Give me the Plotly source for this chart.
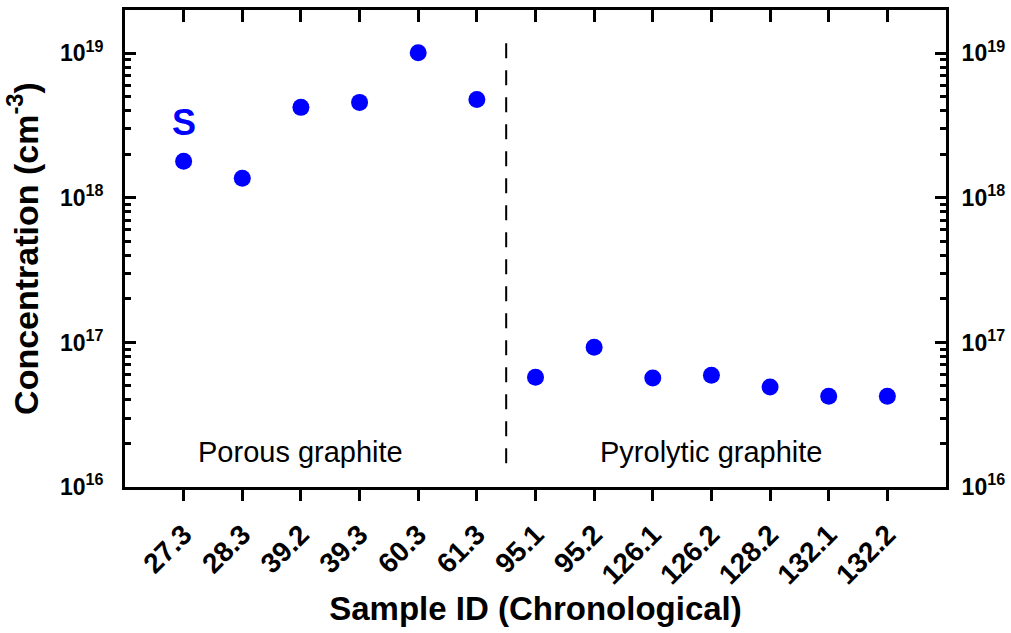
import plotly.graph_objects as go

sample_ids = ["27.3", "28.3", "39.2", "39.3", "60.3", "61.3", "95.1",
              "95.2", "126.1", "126.2", "128.2", "132.1", "132.2"]
concentration = [1.79e18, 1.37e18, 4.23e18, 4.58e18, 1.01e19, 4.8e18, 5.75e16,
                 9.28e16, 5.67e16, 5.94e16, 4.91e16, 4.25e16, 4.25e16]
y_tickvals = [1e16, 1e17, 1e18, 1e19]
y_ticktext = ["10<sup>16</sup>", "10<sup>17</sup>", "10<sup>18</sup>", "10<sup>19</sup>"]

FONT = "Liberation Sans, Arial, sans-serif"
idx = list(range(len(sample_ids)))

fig = go.Figure()
fig.add_trace(go.Scatter(
    x=idx, y=concentration, mode="markers",
    marker=dict(color="#0000ff", size=17, line=dict(width=0)),
    showlegend=False, hoverinfo="x+y"))
fig.add_trace(go.Scatter(
    x=idx, y=concentration, mode="markers", xaxis="x2", yaxis="y2",
    marker=dict(opacity=0), showlegend=False, hoverinfo="skip"))

minor = dict(ticks="inside", ticklen=6, tickwidth=2.5, tickcolor="black", dtick="D1")
common_y = dict(type="log", range=[16, 19.3], tickvals=y_tickvals, ticktext=y_ticktext,
                ticks="inside", ticklen=11, tickwidth=2.5, tickcolor="black",
                showline=True, linecolor="black", linewidth=3, showgrid=False,
                zeroline=False, minor=minor, automargin=False,
                tickfont=dict(family=FONT, size=23, color="black", weight="bold"))

fig.update_layout(
    width=1011, height=633,
    margin=dict(l=125, r=65, t=10, b=146),
    plot_bgcolor="white", paper_bgcolor="white",
    xaxis=dict(range=[-1, 13], tickvals=idx, ticktext=sample_ids, tickangle=-45,
               ticks="outside", ticklen=11, tickwidth=2.5, tickcolor="black",
               showline=True, linecolor="black", linewidth=3, showgrid=False,
               zeroline=False, automargin=False, ticklabelstandoff=6,
               tickfont=dict(family=FONT, size=28, color="black", weight="bold"),
               title=dict(text="Sample ID (Chronological)", standoff=4,
                          font=dict(family=FONT, size=33, color="black", weight="bold"))),
    xaxis2=dict(range=[-1, 13], tickvals=idx, showticklabels=False, overlaying="x",
                side="top", ticks="inside", ticklen=12, tickwidth=2.5, tickcolor="black",
                showline=True, linecolor="black", linewidth=3, showgrid=False,
                zeroline=False, automargin=False),
    yaxis=dict(**common_y, side="left", ticklabelstandoff=14,
               title=dict(text="Concentration (cm<sup>-3</sup>)", standoff=12,
                          font=dict(family=FONT, size=34, color="black", weight="bold"))),
    yaxis2=dict(**common_y, side="right", overlaying="y", ticklabelstandoff=8),
)

fig.add_shape(type="line", xref="x", yref="paper", x0=5.5, x1=5.5, y0=0.05, y1=0.945,
              line=dict(color="black", width=2, dash="15px,12px"))

fig.add_annotation(x=2, y=0.035, xref="x", yref="paper", text="Porous graphite",
                   showarrow=False, yanchor="bottom",
                   font=dict(family=FONT, size=29, color="black"))
fig.add_annotation(x=9, y=0.035, xref="x", yref="paper", text="Pyrolytic graphite",
                   showarrow=False, yanchor="bottom",
                   font=dict(family=FONT, size=29, color="black"))
fig.add_annotation(x=0, y=18.52, xref="x", yref="y", text="S", showarrow=False,
                   font=dict(family=FONT, size=36, color="#0000ff", weight="bold"))

fig.write_html("out.html")
